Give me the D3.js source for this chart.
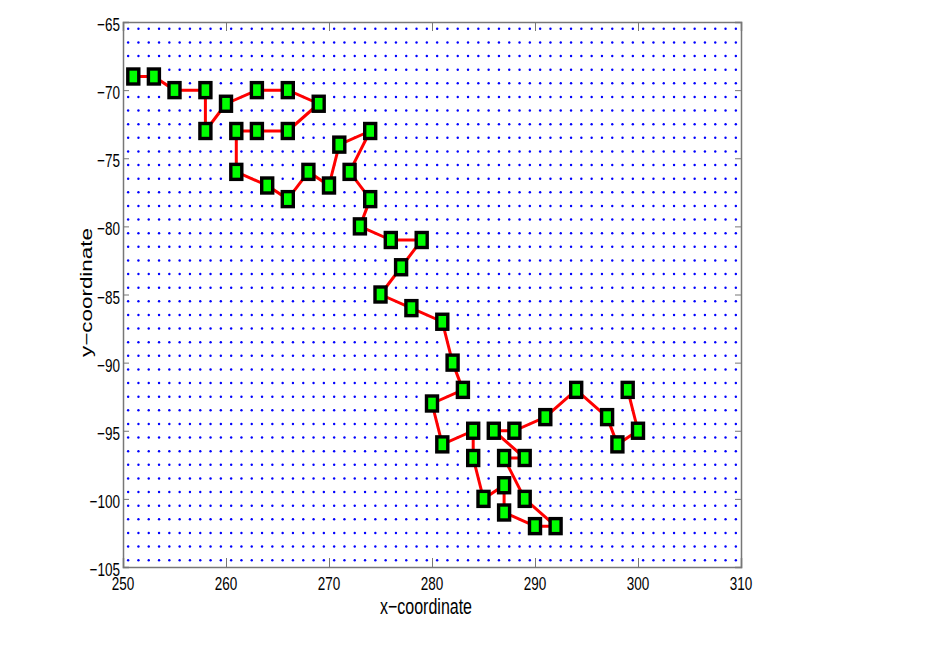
<!DOCTYPE html>
<html>
<head>
<meta charset="utf-8">
<script src="https://cdn.jsdelivr.net/npm/d3@7"></script>
<style>
  body { margin: 0; background: #fff; }
  text { font-family: "Liberation Sans", Arial, sans-serif; fill: #000; }
</style>
</head>
<body>
<script>
// path nodes, in visiting order
var xs = [251, 253, 255, 258, 258, 260, 263, 266, 269, 266, 263, 261, 261, 264, 266, 268, 270, 271, 274, 272,
          274, 273, 276, 279, 277, 275, 278, 281, 282, 283, 280, 281, 284, 284, 285, 287, 287, 290, 292, 289,
          287, 289, 286, 288, 291, 294, 297, 298, 300, 299]
var ys = [-69, -69, -70, -70, -73, -71, -70, -70, -71, -73, -73, -73, -76, -77, -78, -76, -77, -74, -73, -76,
          -78, -80, -81, -81, -83, -85, -86, -87, -90, -92, -93, -96, -95, -97, -100, -99, -101, -102, -102, -100,
          -97, -97, -95, -95, -94, -92, -94, -96, -95, -92]

// background dot grid
var gridX = d3.range(250.5, 310, 1)
var gridY = d3.range(-104.5, -65, 1)

var xTicks = [250, 260, 270, 280, 290, 300, 310]
var yTicks = [-105, -100, -95, -90, -85, -80, -75, -70, -65]

var nodes = xs.map((d, i) => ({x: d, y: ys[i]}))

// plot box (note: "top" is taken by window.top)
var mLeft = 123, mTop = 22, pw = 618, ph = 545
var stretch = 1.4   // the figure looks squeezed sideways, text is tall and narrow

var svg = d3.select("body").append("svg")
    .attr("width", 926)
    .attr("height", 654)

var x = d3.scaleLinear().domain([250, 310]).range([mLeft, mLeft + pw])
var y = d3.scaleLinear().domain([-105, -65]).range([mTop + ph, mTop])

// dots
var g = svg.append('g')
gridY.forEach(function(gy) {
  g.selectAll(null)
    .data(gridX)
    .enter()
    .append('circle')
    .attr('cx', d => x(d))
    .attr('cy', y(gy))
    .attr('r', 1.2)
    .style('fill', '#0000ff')
})

// axes (matlab style box, ticks pointing in), labels drawn by hand below
var axisColor = '#777'
svg.append('g').attr('transform', `translate(0,${mTop + ph})`)
    .call(d3.axisBottom(x).tickValues(xTicks).tickSize(-9).tickFormat(''))
svg.append('g').attr('transform', `translate(0,${mTop})`)
    .call(d3.axisTop(x).tickValues(xTicks).tickSize(-9).tickFormat(''))
svg.append('g').attr('transform', `translate(${mLeft},0)`)
    .call(d3.axisLeft(y).tickValues(yTicks).tickSize(-6).tickFormat(''))
svg.append('g').attr('transform', `translate(${mLeft + pw},0)`)
    .call(d3.axisRight(y).tickValues(yTicks).tickSize(-6).tickFormat(''))

svg.selectAll('.domain').style('stroke', axisColor).style('stroke-width', 1.5)
svg.selectAll('.tick line').style('stroke', axisColor).style('stroke-width', 1)

var fmt = d => d3.format('d')(d).replace('-', '\u2212')

svg.append('g').selectAll('text')
  .data(xTicks)
  .enter()
  .append('text')
  .attr('transform', d => `translate(${x(d)},590) scale(1,${stretch})`)
  .attr('text-anchor', 'middle')
  .style('font-size', '13.5px')
  .text(fmt)

svg.append('g').selectAll('text')
  .data(yTicks)
  .enter()
  .append('text')
  .attr('transform', d => `translate(120,${y(d) + 9}) scale(1,${stretch})`)
  .attr('text-anchor', 'end')
  .style('font-size', '13.5px')
  .text(fmt)

// path
var line = d3.line().x(d => x(d.x)).y(d => y(d.y))
svg.append('path')
  .datum(nodes)
  .attr('d', line)
  .style('fill', 'none')
  .style('stroke', '#ff0000')
  .style('stroke-width', 3)
  .style('stroke-linejoin', 'round')

// square markers
var mw = 11, mh = 15
svg.append('g').selectAll('rect')
  .data(nodes)
  .enter()
  .append('rect')
  .attr('x', d => x(d.x) - mw / 2)
  .attr('y', d => y(d.y) - mh / 2)
  .attr('width', mw)
  .attr('height', mh)
  .style('fill', '#00ff00')
  .style('stroke', '#000')
  .style('stroke-width', 3.4)

// labels
svg.append('text')
  .attr('transform', `translate(${mLeft + pw / 2 - 6},614) scale(1,${stretch})`)
  .attr('text-anchor', 'middle')
  .style('font-size', '16px')
  .text('x\u2212coordinate')

svg.append('text')
  .attr('transform', `translate(92,${mTop + ph / 2 - 2}) rotate(-90) scale(${stretch},1)`)
  .attr('text-anchor', 'middle')
  .style('font-size', '16px')
  .text('y\u2212coordinate')
</script>
</body>
</html>
